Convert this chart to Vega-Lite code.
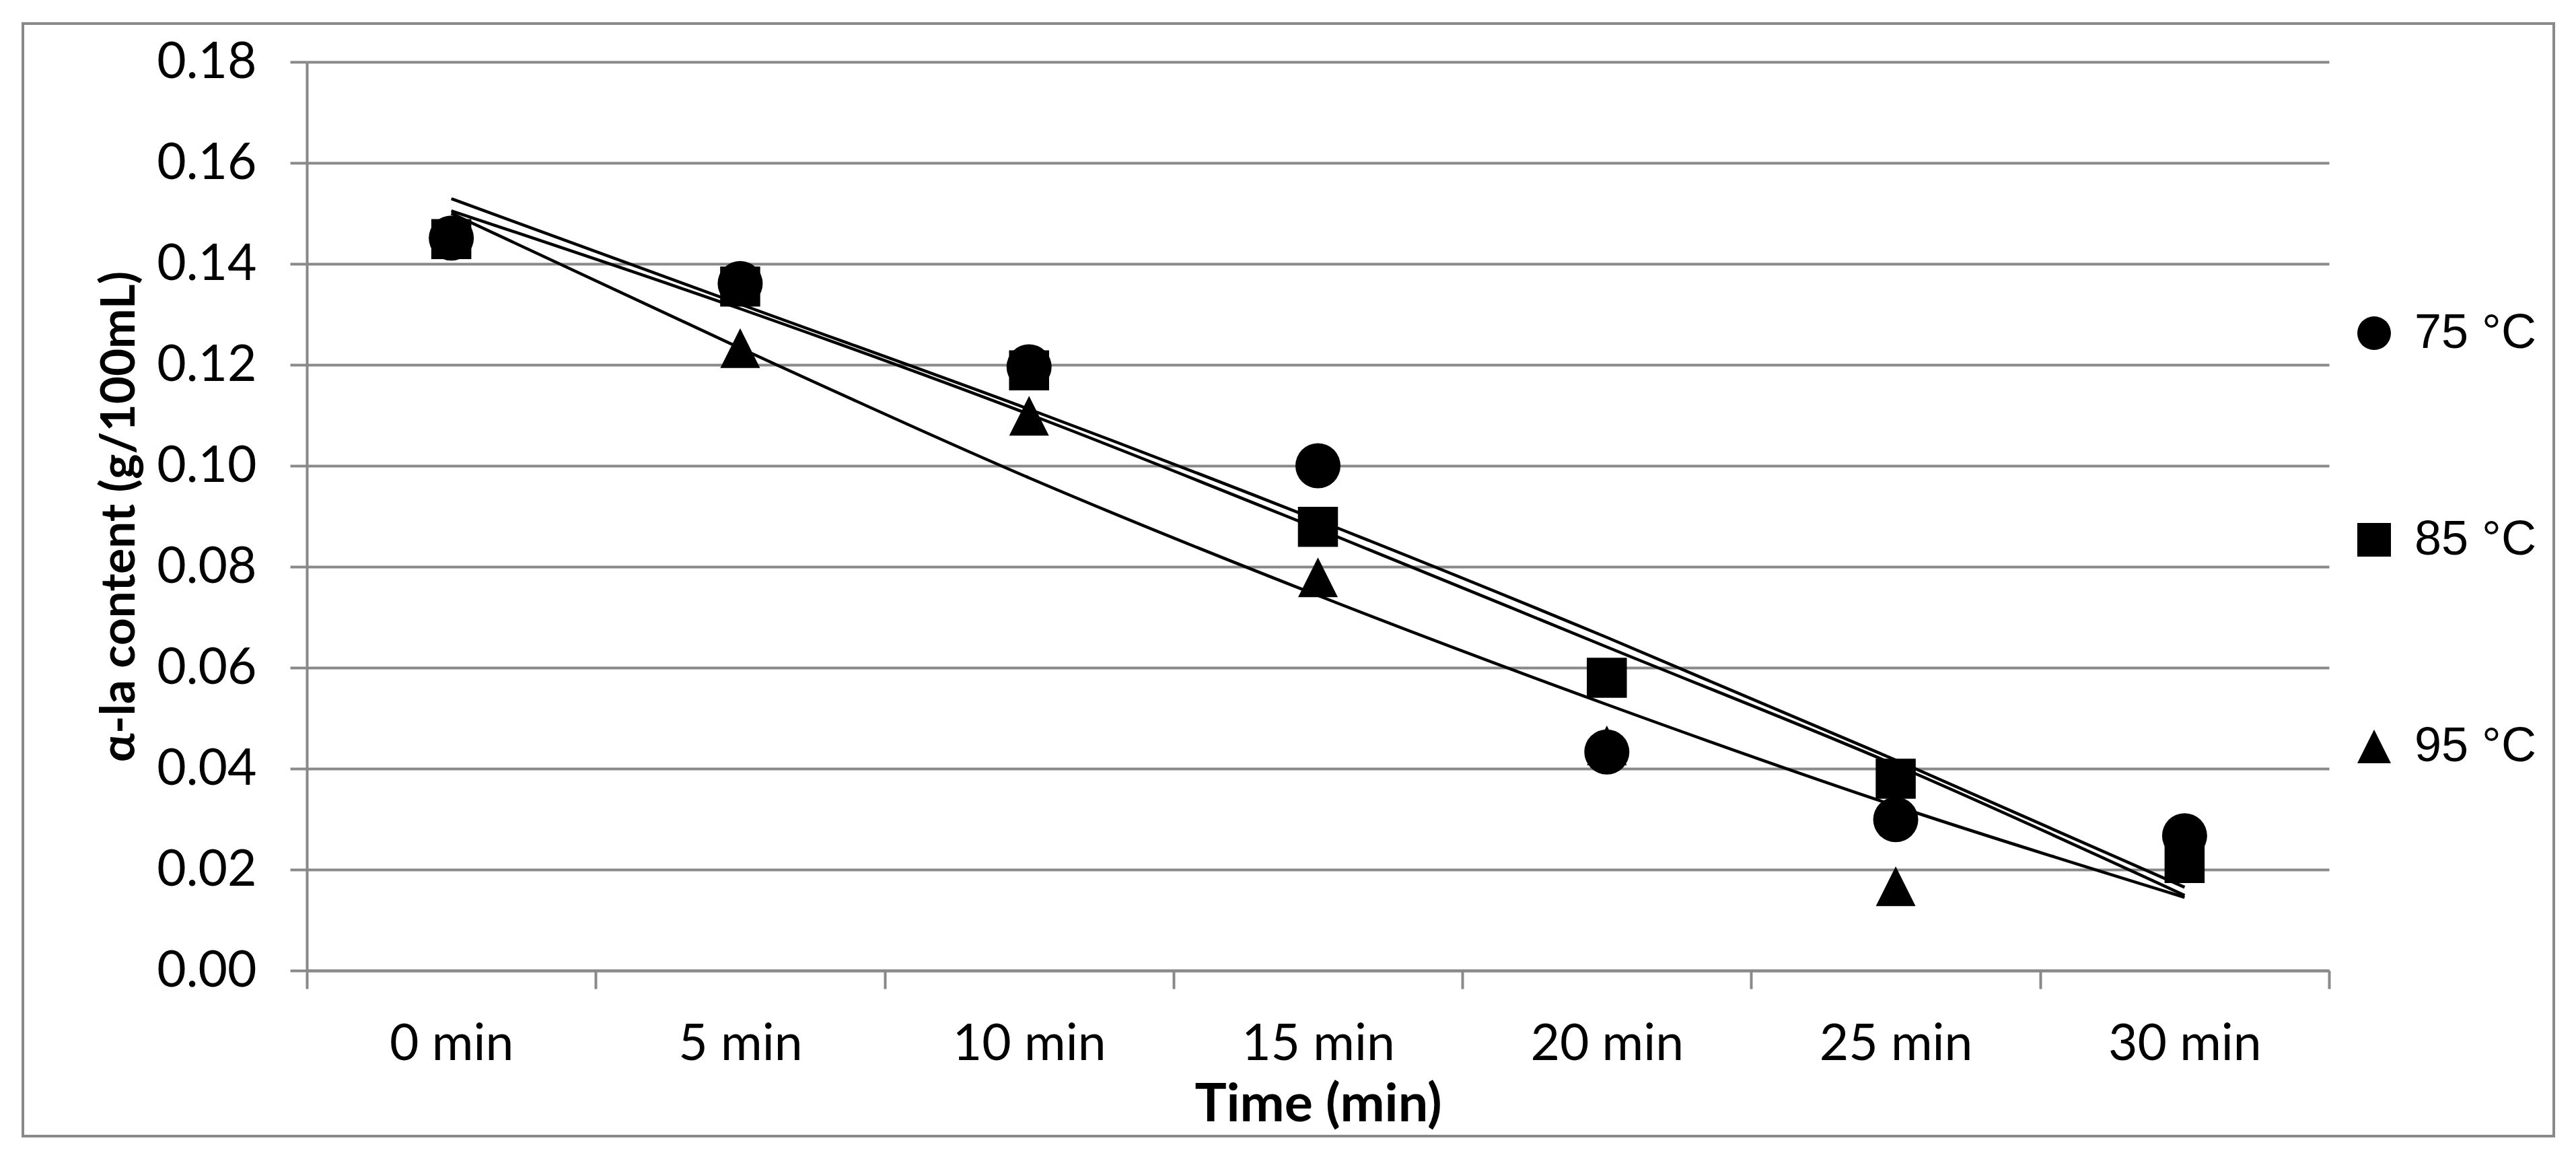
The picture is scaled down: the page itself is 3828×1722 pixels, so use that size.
{
  "$schema": "https://vega.github.io/schema/vega-lite/v6.json",
  "width": 3761,
  "height": 1653,
  "padding": {"left": 34, "top": 35, "right": 33, "bottom": 34},
  "autosize": {"type": "none"},
  "background": "white",
  "config": {
    "view": {"stroke": "#898989", "strokeWidth": 4},
    "axis": {
      "domainColor": "#898989", "domainWidth": 4,
      "tickColor": "#898989", "tickWidth": 4,
      "gridColor": "#898989", "gridWidth": 4,
      "labelColor": "black", "titleColor": "black",
      "labelFont": "Lato", "labelFontSize": 75, "labelLimit": 600,
      "titleFont": "Lato", "titleFontWeight": "bold"
    },
    "legend": {
      "orient": "none", "legendX": 3458, "legendY": 424, "title": null,
      "symbolSize": 2500, "symbolFillColor": "black", "symbolStrokeWidth": 0,
      "labelFont": "Liberation Sans", "labelFontSize": 72, "labelColor": "black",
      "labelLimit": 600, "labelOffset": 24, "rowPadding": 235, "padding": 0
    }
  },
  "datasets": {
    "points": [
      {"time": "0 min", "series": "75 °C", "value": 0.1451},
      {"time": "5 min", "series": "75 °C", "value": 0.1361},
      {"time": "10 min", "series": "75 °C", "value": 0.1196},
      {"time": "15 min", "series": "75 °C", "value": 0.1000},
      {"time": "20 min", "series": "75 °C", "value": 0.0433},
      {"time": "25 min", "series": "75 °C", "value": 0.0299},
      {"time": "30 min", "series": "75 °C", "value": 0.0267},
      {"time": "0 min", "series": "85 °C", "value": 0.1449},
      {"time": "5 min", "series": "85 °C", "value": 0.1355},
      {"time": "10 min", "series": "85 °C", "value": 0.1189},
      {"time": "15 min", "series": "85 °C", "value": 0.0879},
      {"time": "20 min", "series": "85 °C", "value": 0.0580},
      {"time": "25 min", "series": "85 °C", "value": 0.0380},
      {"time": "30 min", "series": "85 °C", "value": 0.0213},
      {"time": "0 min", "series": "95 °C", "value": 0.1450},
      {"time": "5 min", "series": "95 °C", "value": 0.1233},
      {"time": "10 min", "series": "95 °C", "value": 0.1099},
      {"time": "15 min", "series": "95 °C", "value": 0.0779},
      {"time": "20 min", "series": "95 °C", "value": 0.0446},
      {"time": "25 min", "series": "95 °C", "value": 0.0167},
      {"time": "30 min", "series": "95 °C", "value": 0.0213}
    ],
    "fits": [
      {"time": "0 min", "fit": "A", "value": 0.1529},
      {"time": "5 min", "fit": "A", "value": 0.1320},
      {"time": "10 min", "fit": "A", "value": 0.1112},
      {"time": "15 min", "fit": "A", "value": 0.0892},
      {"time": "20 min", "fit": "A", "value": 0.0660},
      {"time": "25 min", "fit": "A", "value": 0.0417},
      {"time": "30 min", "fit": "A", "value": 0.0165},
      {"time": "0 min", "fit": "B", "value": 0.1505},
      {"time": "5 min", "fit": "B", "value": 0.1311},
      {"time": "10 min", "fit": "B", "value": 0.1102},
      {"time": "15 min", "fit": "B", "value": 0.0875},
      {"time": "20 min", "fit": "B", "value": 0.0641},
      {"time": "25 min", "fit": "B", "value": 0.0407},
      {"time": "30 min", "fit": "B", "value": 0.0149},
      {"time": "0 min", "fit": "C", "value": 0.1500},
      {"time": "5 min", "fit": "C", "value": 0.1233},
      {"time": "10 min", "fit": "C", "value": 0.0976},
      {"time": "15 min", "fit": "C", "value": 0.0743},
      {"time": "20 min", "fit": "C", "value": 0.0527},
      {"time": "25 min", "fit": "C", "value": 0.0326},
      {"time": "30 min", "fit": "C", "value": 0.0145}
    ]
  },
  "encoding": {
    "x": {
      "field": "time", "type": "ordinal",
      "sort": ["0 min", "5 min", "10 min", "15 min", "20 min", "25 min", "30 min"],
      "scale": {"type": "band", "range": [422, 3427], "paddingInner": 0, "paddingOuter": 0},
      "axis": {
        "title": "Time (min)", "orient": "bottom", "offset": -246,
        "tickBand": "extent", "grid": false, "tickSize": 27,
        "labelAngle": 0, "labelPadding": 46, "titlePadding": 14, "titleFontSize": 79
      }
    },
    "y": {
      "field": "value", "type": "quantitative",
      "scale": {"domain": [0, 0.18], "range": [1407, 57], "nice": false, "zero": false},
      "axis": {
        "title": "α-la content (g/100mL)", "orient": "left", "offset": -422,
        "values": [0, 0.02, 0.04, 0.06, 0.08, 0.1, 0.12, 0.14, 0.16, 0.18],
        "format": ".2f", "grid": true, "tickSize": 25,
        "labelPadding": 50, "titlePadding": 42, "titleFontSize": 71
      }
    }
  },
  "layer": [
    {
      "data": {"name": "points"},
      "transform": [{"filter": "datum.series === '95 °C'"}],
      "mark": {"type": "point", "filled": true, "color": "black", "opacity": 1, "strokeWidth": 0, "size": 3481},
      "encoding": {
        "shape": {
          "field": "series", "type": "nominal",
          "scale": {"domain": ["75 °C", "85 °C", "95 °C"], "range": ["circle", "square", "M-1,1L0,-1L1,1Z"]}
        }
      }
    },
    {
      "data": {"name": "points"},
      "transform": [{"filter": "datum.series === '85 °C'"}],
      "mark": {"type": "point", "filled": true, "color": "black", "opacity": 1, "strokeWidth": 0, "size": 3540},
      "encoding": {
        "shape": {
          "field": "series", "type": "nominal",
          "scale": {"domain": ["75 °C", "85 °C", "95 °C"], "range": ["circle", "square", "M-1,1L0,-1L1,1Z"]}
        }
      }
    },
    {
      "data": {"name": "points"},
      "transform": [{"filter": "datum.series === '75 °C'"}],
      "mark": {"type": "point", "filled": true, "color": "black", "opacity": 1, "strokeWidth": 0, "size": 4489},
      "encoding": {
        "shape": {
          "field": "series", "type": "nominal",
          "scale": {"domain": ["75 °C", "85 °C", "95 °C"], "range": ["circle", "square", "M-1,1L0,-1L1,1Z"]}
        }
      }
    },
    {
      "data": {"name": "fits"},
      "mark": {"type": "line", "color": "black", "strokeWidth": 4.5, "interpolate": "monotone"},
      "encoding": {"detail": {"field": "fit"}}
    }
  ]
}
